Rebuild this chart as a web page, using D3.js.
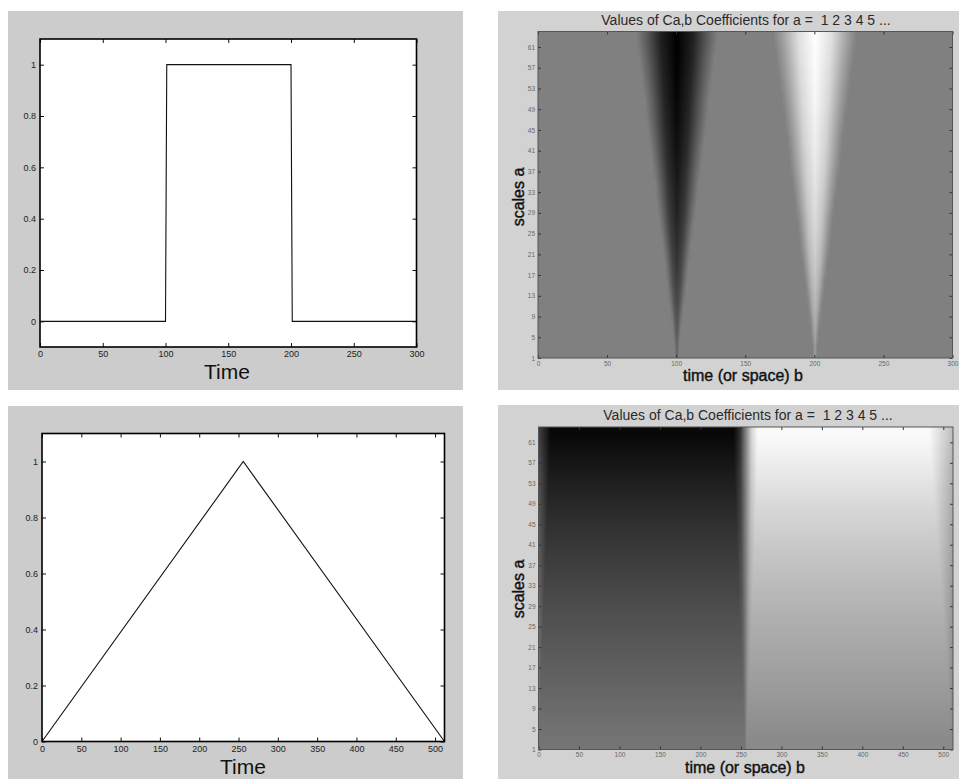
<!DOCTYPE html>
<html>
<head>
<meta charset="utf-8">
<script src="https://cdn.jsdelivr.net/npm/d3@7"></script>
<style>
  body { margin: 0; background: #fff; }
  text { font-family: "Liberation Sans", Arial, sans-serif; }
</style>
</head>
<body>
<svg id="fig"></svg>
<script>
// --- data ---

// signal 1: box
let boxTime  = [0, 100, 101, 200, 201, 300];
let boxValue = [0, 0, 1, 1, 0, 0];
// signal 2: triangle
let triTime  = [0, 256, 512];
let triValue = [0, 1, 0];

let valueTicks = [0, 0.2, 0.4, 0.6, 0.8, 1];
let time300Ticks = [0, 50, 100, 150, 200, 250, 300];
let time500Ticks = [0, 50, 100, 150, 200, 250, 300, 350, 400, 450, 500];
let scaleTicks = [1, 5, 9, 13, 17, 21, 25, 29, 33, 37, 41, 45, 49, 53, 57, 61];

// coefficient images: one row band between two scale edges
let bandEdges = [1, 5, 9, 13, 17, 21, 25, 29, 33, 37, 41, 45, 49, 53, 57, 61, 64];
let grayZero = 128;

// box signal -> two cones (gray level 0..255)
let coneCenters    = [100.5, 200.5];
let darkHalfWidth  = [1.5, 3, 5, 7, 8.5, 10.5, 12.5, 14.5, 16, 18, 20, 22, 23.5, 25.5, 27.5, 29.5];
let darkPeak       = [100, 86, 74, 63, 54, 45, 38, 31, 25, 19, 14, 10, 6, 3, 1, 0];
let lightHalfWidth = [1.5, 3, 5, 7, 9, 11, 12.5, 14.5, 16.5, 18.5, 20, 22, 24, 26, 28, 30];
let lightPeak      = [156, 170, 182, 193, 202, 210, 217, 223, 229, 234, 239, 243, 247, 250, 253, 255];
let coneProfile    = [0, 0.28, 0.74, 1, 0.74, 0.28, 0];   // at -hw, -0.75hw, -0.4hw, 0, ...

// triangle signal -> dark left half, light right half
let rampCenter    = 256;
let rampDark      = [116, 110, 104, 98, 92, 86, 80, 73, 66, 59, 52, 44, 36, 27, 17, 8];
let rampLight     = [138, 145, 152, 158, 164, 170, 176, 183, 190, 197, 205, 213, 222, 232, 242, 250];
let rampHalfWidth = [1.5, 2.5, 3.5, 4.5, 5.5, 6.5, 7.5, 8.5, 9.5, 10.5, 11.5, 12, 13, 14, 14.5, 15];
let edgeWidth     = [1, 1.5, 2, 3, 4, 5, 6, 7, 8, 9, 10, 11, 12, 13, 14, 15];
let leftEdge      = [124, 122, 119, 116, 113, 110, 107, 104, 100, 96, 92, 88, 84, 80, 74, 68];
let rightEdge     = [132, 134, 137, 140, 143, 146, 149, 152, 156, 160, 164, 168, 172, 176, 182, 188];

let titleText = "Values of Ca,b Coefficients for a =  1 2 3 4 5 ...";

// --- page ---
let svg = d3.select("#fig").attr("width", 959).attr("height", 779);
let defs = svg.append("defs");

function gray(v) { return d3.rgb(v, v, v).formatHex(); }
let fmt = d => String(d);

// signal panel (white plot, black line)
function linePanel(p) {
  svg.append("rect").attr("x", p.bg[0]).attr("y", p.bg[1])
    .attr("width", p.bg[2]).attr("height", p.bg[3]).attr("fill", "#cccccc");

  let x = d3.scaleLinear(p.xDomain, [p.left, p.right]);
  let y = d3.scaleLinear(p.yDomain, [p.bottom, p.top]);

  svg.append("rect").attr("x", p.left).attr("y", p.top)
    .attr("width", p.right - p.left).attr("height", p.bottom - p.top).attr("fill", "#fff");

  let line = d3.line().x((d, i) => x(p.t[i])).y(d => y(d));
  svg.append("path").datum(p.v).attr("d", line)
    .attr("fill", "none").attr("stroke", "#111").attr("stroke-width", 1.1);

  let ax = [
    [d3.axisBottom(x).tickValues(p.xTicks), 0, p.bottom, true],
    [d3.axisTop(x).tickValues(p.xTicks), 0, p.top, false],
    [d3.axisLeft(y).tickValues(valueTicks), p.left, 0, true],
    [d3.axisRight(y).tickValues(valueTicks), p.right, 0, false]
  ];
  ax.forEach(([a, tx, ty, lab]) => {
    a.tickSizeInner(-4).tickSizeOuter(0).tickPadding(lab ? 4 : 0)
      .tickFormat(lab ? fmt : "");
    let g = svg.append("g").attr("transform", `translate(${tx},${ty})`).call(a);
    g.select(".domain").remove();
    g.selectAll("line").attr("stroke", "#111");
    g.selectAll("text").attr("font-size", 9).attr("fill", "#222")
      .style("font-family", "'Liberation Sans', Arial, sans-serif");
  });

  svg.append("rect").attr("x", p.left).attr("y", p.top)
    .attr("width", p.right - p.left).attr("height", p.bottom - p.top)
    .attr("fill", "none").attr("stroke", "#000").attr("stroke-width", 1.6);

  svg.append("text").attr("x", p.labelX).attr("y", p.labelY)
    .attr("text-anchor", "middle").attr("font-size", 21).attr("fill", "#111")
    .text("Time");
}

// coefficient panel: each band is a horizontal gradient, faded into the band below
function cwtPanel(p) {
  svg.append("rect").attr("x", p.bg[0]).attr("y", p.bg[1])
    .attr("width", p.bg[2]).attr("height", p.bg[3]).attr("fill", "#d2d2d2");

  let x = d3.scaleLinear(p.xDomain, [p.left, p.right]);
  let y = d3.scaleLinear([1, 64], [p.bottom, p.top]);

  defs.append("clipPath").attr("id", p.id + "-clip")
    .append("rect").attr("x", p.left).attr("y", p.top)
    .attr("width", p.right - p.left).attr("height", p.bottom - p.top);

  let nb = bandEdges.length - 1;
  let mids = d3.range(nb).map(i => (bandEdges[i] + bandEdges[i + 1]) / 2);
  let rows = d3.range(nb).map(i => ({
    i: i,
    top: i == nb - 1 ? 70 : mids[i + 1],
    bot: i == 0 ? -6 : mids[i - 1],
    mid: mids[i],
    stops: p.rowStops(i)
  }));

  let grads = defs.selectAll(null).data(rows).join("linearGradient")
    .attr("id", d => `${p.id}-row${d.i}`)
    .attr("gradientUnits", "userSpaceOnUse")
    .attr("x1", x(p.xDomain[0])).attr("x2", x(p.xDomain[1]))
    .attr("y1", 0).attr("y2", 0);
  grads.selectAll("stop").data(d => d.stops).join("stop")
    .attr("offset", s => (s[0] - p.xDomain[0]) / (p.xDomain[1] - p.xDomain[0]))
    .attr("stop-color", s => gray(s[1]));

  // vertical fade: opaque above the band's own middle, clear at the middle of the band below
  let fades = defs.selectAll(null).data(rows.slice(1)).join("linearGradient")
    .attr("id", d => `${p.id}-fade${d.i}`)
    .attr("gradientUnits", "userSpaceOnUse")
    .attr("x1", 0).attr("x2", 0)
    .attr("y1", d => y(d.mid)).attr("y2", d => y(d.bot));
  fades.append("stop").attr("offset", 0).attr("stop-color", "#fff");
  fades.append("stop").attr("offset", 1).attr("stop-color", "#000");

  let masks = defs.selectAll(null).data(rows.slice(1)).join("mask")
    .attr("id", d => `${p.id}-mask${d.i}`)
    .attr("maskUnits", "userSpaceOnUse")
    .attr("x", p.left - 20).attr("y", p.top - 40)
    .attr("width", p.right - p.left + 40).attr("height", p.bottom - p.top + 80);
  masks.append("rect")
    .attr("x", p.left - 20).attr("y", p.top - 40)
    .attr("width", p.right - p.left + 40).attr("height", p.bottom - p.top + 80)
    .attr("fill", d => `url(#${p.id}-fade${d.i})`);

  let img = svg.append("g").attr("clip-path", `url(#${p.id}-clip)`);
  img.selectAll("rect").data(rows).join("rect")
    .attr("x", p.left - 10).attr("width", p.right - p.left + 20)
    .attr("y", d => y(d.top)).attr("height", d => y(d.bot) - y(d.top))
    .attr("fill", d => `url(#${p.id}-row${d.i})`)
    .attr("mask", d => d.i == 0 ? null : `url(#${p.id}-mask${d.i})`);

  let ax = [
    [d3.axisBottom(x).tickValues(p.xTicks), 0, p.bottom, true],
    [d3.axisTop(x).tickValues(p.xTicks), 0, p.top, false],
    [d3.axisLeft(y).tickValues(scaleTicks), p.left, 0, true],
    [d3.axisRight(y).tickValues(scaleTicks), p.right, 0, false]
  ];
  ax.forEach(([a, tx, ty, lab]) => {
    a.tickSizeInner(-3).tickSizeOuter(0).tickPadding(lab ? 3 : 0)
      .tickFormat(lab ? fmt : "");
    let g = svg.append("g").attr("transform", `translate(${tx},${ty})`).call(a);
    g.select(".domain").remove();
    g.selectAll("line").attr("stroke", "#333");
    g.selectAll("text").attr("font-size", 6.5).attr("fill", "#666")
      .style("font-family", "'Liberation Sans', Arial, sans-serif");
  });

  svg.append("rect").attr("x", p.left).attr("y", p.top)
    .attr("width", p.right - p.left).attr("height", p.bottom - p.top)
    .attr("fill", "none").attr("stroke", "#555").attr("stroke-width", 1);

  svg.append("text").attr("x", p.titleX).attr("y", p.titleY)
    .attr("text-anchor", "middle").attr("font-size", 14).attr("fill", "#2a2a2a")
    .style("white-space", "pre").text(titleText);

  svg.append("text").attr("x", p.xLabelX).attr("y", p.xLabelY)
    .attr("text-anchor", "middle").attr("font-size", 16).attr("fill", "#111")
    .attr("stroke", "#111").attr("stroke-width", 0.4)
    .text("time (or space) b");

  svg.append("text")
    .attr("transform", `translate(${p.yLabelX},${p.yLabelY}) rotate(-90)`)
    .attr("text-anchor", "middle").attr("font-size", 16).attr("fill", "#111")
    .attr("stroke", "#111").attr("stroke-width", 0.4)
    .text("scales a");
}

// stops for one band of the box image: two cones on a flat background
function coneStops(i) {
  let s = [[0, grayZero]];
  let cones = [[coneCenters[0], darkHalfWidth[i], darkPeak[i]],
               [coneCenters[1], lightHalfWidth[i], lightPeak[i]]];
  cones.forEach(([c, hw, pk]) => {
    [-1, -0.75, -0.4, 0, 0.4, 0.75, 1].forEach((f, k) => {
      s.push([c + f * hw, grayZero + (pk - grayZero) * coneProfile[k]]);
    });
  });
  s.push([300, grayZero]);
  return s;
}

// stops for one band of the triangle image
function rampStops(i) {
  let hw = rampHalfWidth[i], ew = edgeWidth[i];
  let mid = (rampDark[i] + rampLight[i]) / 2;
  return [
    [0, leftEdge[i]],
    [ew, rampDark[i]],
    [rampCenter - hw, rampDark[i]],
    [rampCenter - hw / 2, rampDark[i] + (mid - rampDark[i]) * 0.3],
    [rampCenter, mid],
    [rampCenter + hw / 2, rampLight[i] - (rampLight[i] - mid) * 0.3],
    [rampCenter + hw, rampLight[i]],
    [512 - 2 * ew, rampLight[i]],
    [512, rightEdge[i]]
  ];
}

linePanel({
  bg: [8, 11, 455, 379], left: 40, right: 416.5, top: 39, bottom: 347,
  xDomain: [0, 300], yDomain: [-0.1, 1.1], xTicks: time300Ticks,
  t: boxTime, v: boxValue, labelX: 227, labelY: 379
});

linePanel({
  bg: [8, 406, 455, 373], left: 42, right: 444.5, top: 433.5, bottom: 741.5,
  xDomain: [0, 512], yDomain: [0, 1.1], xTicks: time500Ticks,
  t: triTime, v: triValue, labelX: 243, labelY: 774
});

cwtPanel({
  id: "box", bg: [498, 11, 461, 379], left: 538, right: 952.5, top: 31.5, bottom: 358,
  xDomain: [0, 300], xTicks: time300Ticks, rowStops: coneStops,
  titleX: 746, titleY: 25, xLabelX: 743, xLabelY: 381, yLabelX: 524, yLabelY: 197
});

cwtPanel({
  id: "tri", bg: [498, 405, 461, 374], left: 538.5, right: 953, top: 427, bottom: 749.5,
  xDomain: [0, 512], xTicks: time500Ticks, rowStops: rampStops,
  titleX: 748, titleY: 420, xLabelX: 745, xLabelY: 773, yLabelX: 524, yLabelY: 589
});
</script>
</body>
</html>
